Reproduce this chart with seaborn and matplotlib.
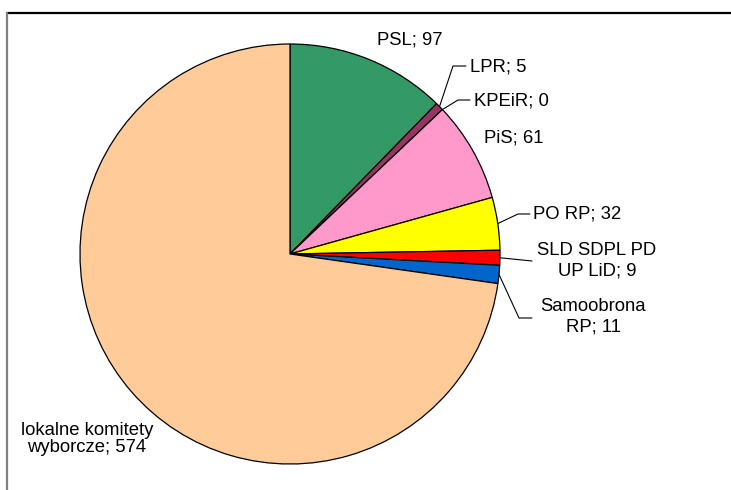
import matplotlib
matplotlib.use("Agg")
import matplotlib.pyplot as plt
from matplotlib.lines import Line2D
import numpy as np
import seaborn as sns

PARTIES = ["PSL", "LPR", "KPEiR", "PiS", "PO RP", "SLD SDPL PD\nUP LiD", "Samoobrona\nRP",
           "lokalne komitety\nwyborcze"]
SEATS = [97, 5, 0, 61, 32, 9, 11, 574]
COLORS = ["#339966", "#993366", "#993366", "#FF99CC", "#FFFF00", "#FF0000", "#0066CC", "#FFCC99"]

# label layout in pixels (x, y from top-left), and the elbow points of the leader lines
LAYOUT = [
    dict(text=(410, 40), ha="center", ls=1.0, leader=None),
    dict(text=(470, 67), ha="left", ls=1.0, leader=[(453, 66), (466, 66)]),
    dict(text=(474, 101), ha="left", ls=1.0, leader=[(458, 100), (470, 100)]),
    dict(text=(514, 138), ha="center", ls=1.0, leader=None),
    dict(text=(533, 214), ha="left", ls=1.0, leader=[(518, 214), (530, 214)]),
    dict(text=(597, 261), ha="center", ls=1.25, leader=[(532, 261)]),
    dict(text=(593, 317), ha="center", ls=1.25, leader=[(519, 318), (532, 318)]),
    dict(text=(87, 439), ha="center", ls=1.0, leader=None),
]

W, H = 731, 490
CX, CY, R = 290, 254, 210


def px(x, y):
    return (x - CX) / R, (CY - y) / R


def main():
    sns.set_style("white")
    plt.rcParams["font.family"] = ["Liberation Sans", "DejaVu Sans"]

    fig = plt.figure(figsize=(W / 100, H / 100), dpi=100)
    ax = fig.add_axes([(CX - R) / W, (H - CY - R) / H, 2 * R / W, 2 * R / H])
    wedges, _ = ax.pie(SEATS, colors=COLORS, startangle=90, counterclock=False,
                       wedgeprops=dict(edgecolor="black", linewidth=0.9))
    ax.set_xlim(-1, 1)
    ax.set_ylim(-1, 1)
    ax.set_aspect("equal")
    ax.axis("off")

    for w, name, n, lay in zip(wedges, PARTIES, SEATS, LAYOUT):
        tx, ty = px(*lay["text"])
        ax.text(tx, ty, f"{name}; {n}", ha=lay["ha"], va="center", multialignment="center",
                fontsize=13.3, linespacing=lay["ls"], color="black", clip_on=False)
        if lay["leader"]:
            mid = np.deg2rad((w.theta1 + w.theta2) / 2)
            xs = [np.cos(mid)] + [px(*p)[0] for p in lay["leader"]]
            ys = [np.sin(mid)] + [px(*p)[1] for p in lay["leader"]]
            ax.plot(xs, ys, color="black", lw=0.8, clip_on=False)

    # chart area frame (only top and left edges fall inside the picture)
    fig.add_artist(Line2D([7 / W, 1], [1 - 13 / H, 1 - 13 / H], color="black", lw=1.6))
    fig.add_artist(Line2D([7 / W, 7 / W], [0, 1 - 13 / H], color="#808080", lw=1.6))

    fig.savefig("out.png", dpi=100)


if __name__ == "__main__":
    main()
